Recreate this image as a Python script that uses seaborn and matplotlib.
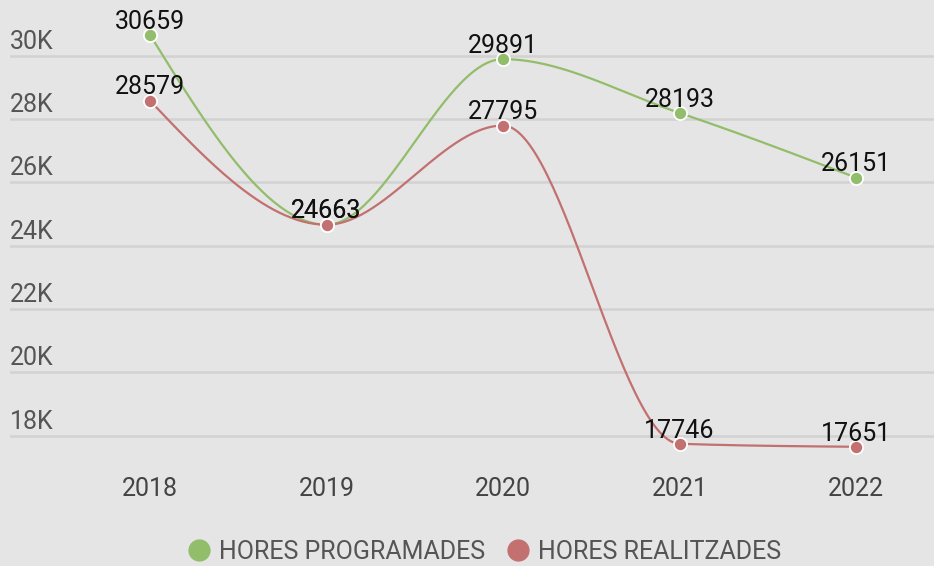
import numpy as np
import pandas as pd
import matplotlib
matplotlib.use("Agg")
import matplotlib.pyplot as plt
import matplotlib.transforms as mtransforms
from matplotlib.lines import Line2D
import seaborn as sns

years = ["2018", "2019", "2020", "2021", "2022"]
programades = [30659, 24663, 29891, 28193, 26151]
realitzades = [28579, 24663, 27795, 17746, 17651]
series_names = ["HORES PROGRAMADES", "HORES REALITZADES"]
yticks = [18000, 20000, 22000, 24000, 26000, 28000, 30000]
ytick_labels = ["18K", "20K", "22K", "24K", "26K", "28K", "30K"]

GREEN = "#92bd6b"
RED = "#c27070"
BG = "#e5e5e5"


def monotone_curve(x, y, n=60):
    """Monotone cubic (d3 curveMonotoneX style) for drawing the line."""
    x = np.asarray(x, float)
    y = np.asarray(y, float)
    h = np.diff(x)
    s = np.diff(y) / h
    m = np.zeros_like(y)
    for k in range(1, len(y) - 1):
        h0, h1 = h[k - 1], h[k]
        s0, s1 = s[k - 1], s[k]
        p = (s0 * h1 + s1 * h0) / (h0 + h1)
        m[k] = (np.sign(s0) + np.sign(s1)) * min(abs(s0), abs(s1), 0.5 * abs(p))
    m[0] = (3 * s[0] - m[1]) / 2 if len(y) > 2 else s[0]
    m[-1] = (3 * s[-1] - m[-2]) / 2 if len(y) > 2 else s[-1]
    xs, ys = [], []
    for k in range(len(x) - 1):
        t = np.linspace(0, 1, n, endpoint=(k == len(x) - 2))
        hk = h[k]
        h00 = 2 * t**3 - 3 * t**2 + 1
        h10 = t**3 - 2 * t**2 + t
        h01 = -2 * t**3 + 3 * t**2
        h11 = t**3 - t**2
        xs.append(x[k] + t * hk)
        ys.append(h00 * y[k] + h10 * hk * m[k] + h01 * y[k + 1] + h11 * hk * m[k + 1])
    return np.concatenate(xs), np.concatenate(ys)


sns.set_theme(style="white")
plt.rcParams["font.family"] = ["Roboto", "DejaVu Sans"]

W, H = 934, 566
fig = plt.figure(figsize=(W / 100, H / 100), dpi=100)
fig.patch.set_facecolor(BG)

ax_left, ax_right = 10, 934
ax_top, ax_bottom = 0, 460
ax = fig.add_axes([ax_left / W, 1 - ax_bottom / H, (ax_right - ax_left) / W, (ax_bottom - ax_top) / H])
ax.set_facecolor(BG)

xpos = np.arange(len(years))
df = pd.DataFrame({
    "x": np.concatenate([xpos, xpos]),
    "value": programades + realitzades,
    "serie": [series_names[0]] * len(years) + [series_names[1]] * len(years),
})

palette = {series_names[0]: GREEN, series_names[1]: RED}

for name, vals, z in [(series_names[0], programades, 2), (series_names[1], realitzades, 3)]:
    cx, cy = monotone_curve(xpos, vals)
    sns.lineplot(x=cx, y=cy, ax=ax, color=palette[name], linewidth=1.6, zorder=z, sort=False,
                 legend=False)

for name, z in [(series_names[0], 4), (series_names[1], 5)]:
    sub = df[df["serie"] == name]
    sns.scatterplot(data=sub, x="x", y="value", ax=ax, color=palette[name], s=90,
                    edgecolor="white", linewidth=1.3, zorder=z, legend=False)

for name in series_names:
    sub = df[df["serie"] == name]
    for xv, v in zip(sub["x"], sub["value"]):
        ax.annotate(f"{v}", (xv, v), xytext=(0, 4.5), textcoords="offset points",
                    ha="center", va="baseline", fontsize=18, color="#111111", zorder=6)

# axis ranges derived from layout
px_per_unit_x = 176.5
ax.set_xlim(-140 / px_per_unit_x, 4 + 78 / px_per_unit_x)
ax.set_ylim(17233, 31759)

ax.set_yticks(yticks)
ax.set_yticklabels([])
ax.tick_params(axis="y", length=0)
ax.grid(axis="y", color="#d2d2d2", linewidth=1.8)
ax.set_axisbelow(True)

offset = mtransforms.ScaledTranslation(0, 7 / 100, fig.dpi_scale_trans)
trans = mtransforms.blended_transform_factory(ax.transAxes, ax.transData) + offset
for v, lab in zip(yticks, ytick_labels):
    ax.text(0.0, v, lab, transform=trans, ha="left", va="baseline",
            fontsize=18, color="#555555")

ax.set_xticks(xpos)
ax.set_xticklabels(years, fontsize=18, color="#444444")
ax.tick_params(axis="x", length=0, pad=12)
ax.set_xlabel("")
ax.set_ylabel("")
for sp in ax.spines.values():
    sp.set_visible(False)

handles = [Line2D([0], [0], marker="o", linestyle="", markersize=15,
                  markerfacecolor=palette[n], markeredgecolor=palette[n]) for n in series_names]
fig.legend(handles, series_names, loc="center", bbox_to_anchor=(484 / W, 1 - 552 / H),
           ncol=2, frameon=False, fontsize=18, labelcolor="#555555",
           handletextpad=0.3, columnspacing=0.8, handlelength=1.0)

fig.savefig("out.png", dpi=100, facecolor=BG)
